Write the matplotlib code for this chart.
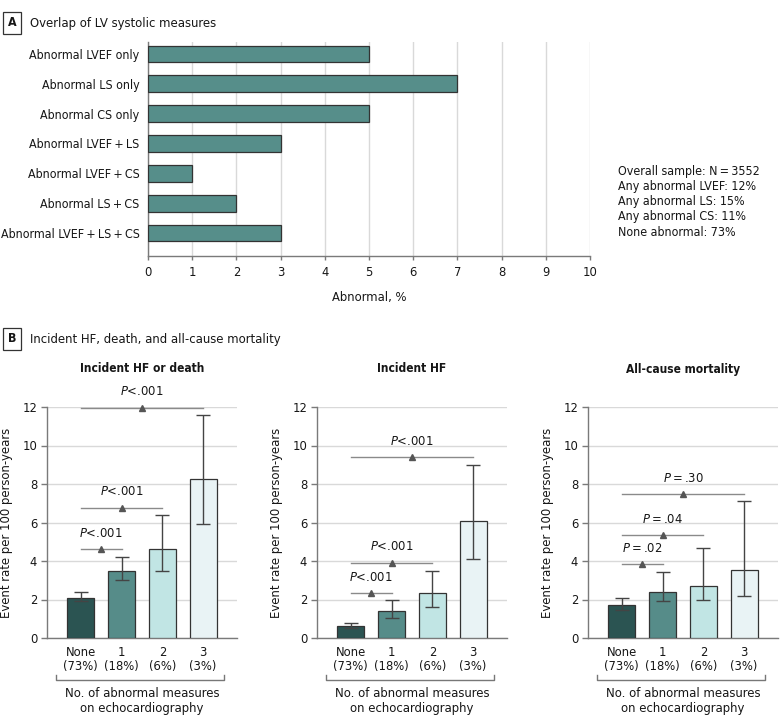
import matplotlib
matplotlib.use("Agg")
import matplotlib.pyplot as plt
import numpy as np

plt.rcParams['font.family'] = ['DejaVu Sans']
plt.rcParams['font.stretch'] = 'condensed'
plt.rcParams['mathtext.fontset'] = 'dejavusans'
TS = "\u2009"  # thin space, as typeset in the original

FS_A = 8.9
FS_B = 9.3

# ---------------- data ----------------
overlap_labels = ["Abnormal LVEF only", "Abnormal LS only", "Abnormal CS only",
                  f"Abnormal LVEF{TS}+{TS}LS", f"Abnormal LVEF{TS}+{TS}CS", f"Abnormal LS{TS}+{TS}CS",
                  f"Abnormal LVEF{TS}+{TS}LS{TS}+{TS}CS"]
overlap_pct = [5, 7, 5, 3, 1, 2, 3]
summary_lines = [f"Overall sample: N{TS}={TS}3552", "Any abnormal LVEF: 12%",
                 "Any abnormal LS: 15%", "Any abnormal CS: 11%", "None abnormal: 73%"]

cat_labels = ["None\n(73%)", "1\n(18%)", "2\n(6%)", "3\n(3%)"]
panel_titles = ["Incident HF or death", "Incident HF", "All-cause mortality"]
rates = [[2.1, 3.5, 4.6, 8.25],
         [0.6, 1.4, 2.35, 6.1],
         [1.7, 2.4, 2.7, 3.55]]
ci_low = [[1.9, 3.0, 3.5, 5.9],
          [0.5, 1.05, 1.6, 4.1],
          [1.45, 1.9, 1.95, 2.2]]
ci_high = [[2.4, 4.2, 6.4, 11.6],
           [0.8, 1.95, 3.5, 9.0],
           [2.1, 3.45, 4.7, 7.1]]
p_values = [["<.001", "<.001", "<.001"],
            ["<.001", "<.001", "<.001"],
            [f"{TS}={TS}.02", f"{TS}={TS}.04", f"{TS}={TS}.30"]]
bracket_y = [[4.62, 6.77, 11.97],
             [2.32, 3.91, 9.40],
             [3.83, 5.35, 7.48]]
bar_colors = ["#2b5452", "#568c89", "#c1e5e4", "#e9f3f5"]

W, H = 780, 728
fig = plt.figure(figsize=(W / 100, H / 100), dpi=100)

def fx(px):
    return px / W

def fy(py):
    return 1 - py / H

grid_c = "#d9d9d9"
spine_c = "#7a7a7a"
edge_c = "#333333"
txt_c = "#161616"

# ---------------- Panel A ----------------
axA = fig.add_axes([fx(148), fy(256), fx(590 - 148), (256 - 42) / H])
y = np.arange(len(overlap_labels))
axA.barh(y, overlap_pct, height=0.56, color="#568e8a", edgecolor=edge_c, linewidth=0.9, zorder=3)
axA.set_xlim(0, 10)
axA.set_ylim(len(overlap_labels) - 1 + 0.77, -0.4)
axA.set_xticks(range(0, 11))
axA.set_yticks(y)
axA.set_yticklabels(overlap_labels, fontsize=FS_A, color=txt_c)
axA.tick_params(axis='y', length=0, pad=6)
axA.tick_params(axis='x', length=3, width=1, color=spine_c, labelsize=FS_B, labelcolor=txt_c, pad=4)
axA.xaxis.grid(True, color=grid_c, linewidth=1, zorder=0)
axA.set_axisbelow(True)
for s in ['top', 'right']:
    axA.spines[s].set_visible(False)
for s in ['left', 'bottom']:
    axA.spines[s].set_color(spine_c)
    axA.spines[s].set_linewidth(1)
axA.set_xlabel("Abnormal, %", fontsize=FS_B, color=txt_c, labelpad=9)

for i, line in enumerate(summary_lines):
    fig.text(fx(618), fy(171 + i * 15.3), line, fontsize=FS_A, color=txt_c, va='center', ha='left')

# panel labels
def panel_label(letter, text, ycen):
    fig.text(fx(12), fy(ycen), letter, fontsize=FS_A, fontweight='bold', ha='center', va='center',
             color=txt_c,
             bbox=dict(boxstyle='square,pad=0.35', facecolor='white', edgecolor='#333333', linewidth=0.9))
    fig.text(fx(30), fy(ycen), text, fontsize=9.4, ha='left', va='center', color=txt_c)

panel_label("A", "Overlap of LV systolic measures", 23)
panel_label("B", "Incident HF, death, and all-cause mortality", 339)

# ---------------- Panel B ----------------
lefts = [47, 317, 588]
x = np.arange(len(cat_labels))
for k in range(3):
    ax = fig.add_axes([fx(lefts[k]), fy(638), fx(190), 231 / H])
    r = np.array(rates[k])
    lo = r - np.array(ci_low[k])
    hi = np.array(ci_high[k]) - r
    ax.bar(x, r, width=0.66, color=bar_colors, edgecolor=edge_c, linewidth=0.9, zorder=3)
    ax.errorbar(x, r, yerr=[lo, hi], fmt='none', ecolor="#444444", elinewidth=1,
                capsize=4.7, capthick=1, zorder=4)
    ax.set_xlim(-0.83, 3.83)
    ax.set_ylim(0, 12)
    ax.set_yticks(range(0, 13, 2))
    ax.set_xticks(x)
    ax.set_xticklabels(cat_labels, fontsize=FS_B, color=txt_c, linespacing=1.1)
    ax.tick_params(axis='x', length=0, pad=6)
    ax.tick_params(axis='y', length=4, width=1, color=spine_c, labelsize=FS_B, labelcolor=txt_c, pad=3)
    ax.yaxis.grid(True, color=grid_c, linewidth=1, zorder=0)
    ax.set_axisbelow(True)
    for s in ['top', 'right']:
        ax.spines[s].set_visible(False)
    for s in ['left', 'bottom']:
        ax.spines[s].set_color(spine_c)
        ax.spines[s].set_linewidth(1)
    ax.set_ylabel("Event rate per 100 person-years", fontsize=9.4, color=txt_c)
    ax.yaxis.set_label_coords(-34 / 190, 0.5)
    ax.text(0.5, 1 + 38 / 231, panel_titles[k], transform=ax.transAxes, ha='center', va='center',
            fontsize=8.6, fontweight='bold', color=txt_c)
    # significance brackets
    for j in range(3):
        yb = bracket_y[k][j]
        x0, x1 = 0, j + 1
        ax.plot([x0, x1], [yb, yb], color="#8a8a8a", linewidth=1, clip_on=False, zorder=5)
        xm = (x0 + x1) / 2
        ax.plot([xm], [yb], marker='^', markersize=5, color="#555555", linestyle='none',
                clip_on=False, zorder=6)
        ax.annotate(r"$\mathit{P}$" + p_values[k][j], xy=(xm, yb), xytext=(0, 11.5),
                    textcoords='offset points', ha='center', va='center', fontsize=FS_B,
                    color=txt_c, annotation_clip=False)
    # x group bracket
    bx0, bx1 = (56 - 47) / 190, (224 - 47) / 190
    by, bt = -42 / 231, -37 / 231
    ax.plot([bx0, bx0, bx1, bx1], [bt, by, by, bt], transform=ax.transAxes, color="#777777",
            linewidth=1, clip_on=False)
    ax.text(0.5, -63 / 231, "No. of abnormal measures\non echocardiography", transform=ax.transAxes,
            ha='center', va='center', fontsize=9.4, color=txt_c, linespacing=1.2)

fig.savefig("out.png", dpi=100)
